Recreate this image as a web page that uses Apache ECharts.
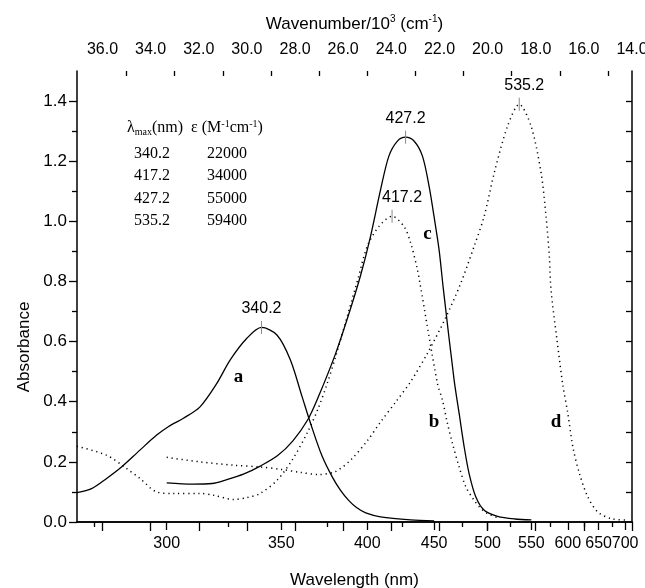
<!DOCTYPE html>
<html><head><meta charset="utf-8">
<script src="https://cdn.jsdelivr.net/npm/echarts@6/dist/echarts.min.js"></script>
<style>html,body{margin:0;padding:0;background:#fff}#c{width:645px;height:588px}</style>
</head><body><div id="c"></div>
<script>
// ---- data (wavelength in nm, absorbance) ----
const aWl  = [269.8, 274.3, 279.1, 284.0, 290.3, 296.3, 300.6, 306.4, 313.0, 320.0, 325.8, 333.3, 340.2, 347.8, 354.7, 360.9, 366, 372, 378, 383, 388, 393, 399, 409, 431, 450];
const aAbs = [0.098, 0.111, 0.145, 0.183, 0.239, 0.289, 0.317, 0.345, 0.383, 0.461, 0.539, 0.611, 0.647, 0.622, 0.539, 0.417, 0.32, 0.22, 0.15, 0.105, 0.072, 0.048, 0.03, 0.017, 0.007, 0.004];

const bWl  = [269.8, 279.1, 285.7, 290.3, 296.3, 302.5, 313.0, 318.6, 327.2, 333.3, 339.6, 348, 356, 364, 370, 375, 380, 388, 394, 400.0, 407.9, 417.2, 426.0, 431.1, 436.4, 438.4, 452.8, 457.1, 461.5, 466.0, 472.1, 478.4, 486.4, 493.1, 500, 510];
const bAbs = [0.252, 0.222, 0.178, 0.145, 0.100, 0.095, 0.095, 0.089, 0.075, 0.081, 0.095, 0.14, 0.21, 0.30, 0.38, 0.46, 0.55, 0.70, 0.81, 0.917, 0.983, 1.017, 0.983, 0.928, 0.839, 0.794, 0.461, 0.406, 0.328, 0.261, 0.183, 0.117, 0.072, 0.045, 0.028, 0.015];

const cWl  = [300, 310, 318, 324.3, 332, 339.6, 348, 356, 364, 370, 380, 388, 395.6, 402.2, 409.1, 414.9, 421.1, 427.2, 433.7, 440.4, 445.8, 449.9, 454.2, 458.0, 467.5, 472.1, 476.8, 481.5, 488.1, 496.5, 510.6, 530, 550];
const cAbs = [0.13, 0.126, 0.128, 0.141, 0.16, 0.186, 0.22, 0.27, 0.34, 0.417, 0.56, 0.69, 0.82, 0.95, 1.106, 1.217, 1.267, 1.28, 1.267, 1.217, 1.117, 1.017, 0.906, 0.772, 0.472, 0.361, 0.25, 0.161, 0.083, 0.039, 0.019, 0.01, 0.007];

const dWl  = [300, 313, 327.2, 339.6, 350, 360, 370, 380, 390, 400, 409.1, 420, 431.1, 445, 460, 473.6, 486.4, 496.5, 507.0, 521.7, 535.2, 549.6, 562.5, 569.1, 573.6, 575.9, 584, 592.6, 600, 607.6, 617.9, 631.6, 648.6, 672.8, 705.9];
const dAbs = [0.215, 0.2, 0.189, 0.183, 0.175, 0.165, 0.158, 0.168, 0.21, 0.27, 0.333, 0.40, 0.467, 0.565, 0.68, 0.794, 0.917, 1.017, 1.161, 1.317, 1.389, 1.317, 1.161, 1.017, 0.883, 0.772, 0.61, 0.456, 0.361, 0.25, 0.161, 0.083, 0.033, 0.011, 0.006];

const peakWl  = [340.2, 417.2, 427.2, 535.2];
const peakAbs = [0.647, 1.017, 1.28, 1.389];

const curveNames = ['a', 'b', 'c', 'd'];
const letterWl  = [329.5, 449.9, 444.4, 582.9];
const letterAbs = [0.483, 0.333, 0.956, 0.333];

const tableLambda = ['340.2', '417.2', '427.2', '535.2'];
const tableEps    = ['22000', '34000', '55000', '59400'];

const wlMajor = [300, 350, 400, 450, 500, 550, 600, 650];
const wlLast  = [700];
const wlMinor = [275, 325, 375, 425, 475, 525, 575, 625, 675];
const nuMajor = [14, 16, 18, 20, 22, 24, 26, 28, 30, 32, 34, 36];
const nuMinor = [15, 17, 19, 21, 23, 25, 27, 29, 31, 33, 35];
const absMajor = [0, 0.2, 0.4, 0.6, 0.8, 1.0, 1.2, 1.4];
const absMinor = [0.1, 0.3, 0.5, 0.7, 0.9, 1.1, 1.3];
const absRight = [0.1, 0.2, 0.3, 0.4, 0.5, 0.6, 0.7, 0.8, 0.9, 1.0, 1.1, 1.2, 1.3, 1.4];

// ---- build ----
const toNu = wl => 1e4 / wl;
const pairs = (wl, ab) => wl.map((w, i) => [toNu(w), ab[i]]);
const X_MIN = 14.0, X_MAX = 37.06;
const SANS = '"Liberation Sans", Arial, sans-serif';
const SERIF = '"Liberation Serif", "Times New Roman", serif';
const AX = { color: '#000', width: 1.5 };

function xAx(o) {
  return Object.assign({ type: 'value', min: X_MIN, max: X_MAX, inverse: true,
    splitLine: { show: false }, axisLine: { show: false },
    axisTick: { show: false }, axisLabel: { show: false } }, o);
}
function yAx(o) {
  return Object.assign({ type: 'value', min: 0, max: 1.5,
    splitLine: { show: false }, axisLine: { show: false },
    axisTick: { show: false }, axisLabel: { show: false } }, o);
}
const labelStyle = { show: true, color: '#000', fontSize: 16, fontFamily: SANS, hideOverlap: false };
const wlFmt = v => String(Math.round(1e4 / v));

const chart = echarts.init(document.getElementById('c'), null, { renderer: 'canvas' });
const lineSeries = (data, dotted) => ({
  type: 'line', data, showSymbol: false, symbol: 'none', smooth: 0.3,
  xAxisIndex: 0, yAxisIndex: 0, silent: true, z: 3,
  lineStyle: dotted ? { color: '#000', width: 1.5, type: [1.2, 3.8] } : { color: '#000', width: 1.3 }
});
const peakOffsets = [[0, 0], [10, 0], [0, 0], [5, 0]];

chart.setOption({
  animation: false,
  backgroundColor: '#fff',
  grid: { left: 77, right: 13, top: 71, bottom: 66, containLabel: false, outerBoundsMode: 'none' },
  xAxis: [
    xAx({ position: 'bottom', axisLine: { show: true, lineStyle: AX },
      axisTick: { show: true, customValues: wlMajor.concat(wlLast).map(toNu), length: 8, lineStyle: { color: '#000', width: 1.3 } },
      axisLabel: Object.assign({}, labelStyle, { customValues: wlMajor.map(toNu), margin: 14, formatter: wlFmt }),
      name: 'Wavelength (nm)', nameLocation: 'middle', nameGap: 50,
      nameTextStyle: { color: '#000', fontSize: 17, fontFamily: SANS } }),
    xAx({ position: 'bottom',
      axisTick: { show: true, customValues: wlMinor.map(toNu), length: 5, lineStyle: { color: '#000', width: 1.3 } } }),
    xAx({ position: 'top', axisLine: { show: true, lineStyle: AX },
      axisTick: { show: true, inside: true, customValues: nuMajor, length: 9, lineStyle: { color: '#000', width: 1.3 } },
      axisLabel: Object.assign({}, labelStyle, { customValues: nuMajor, margin: 13, formatter: v => v.toFixed(1) }),
      name: '{n|Wavenumber/10}{s|3}{n| (cm}{s|-1}{n|)}', nameLocation: 'middle', nameGap: 37,
      nameTextStyle: { color: '#000', fontSize: 17, fontFamily: SANS,
        rich: { n: { fontSize: 17, fontFamily: SANS, color: '#000', lineHeight: 20 },
                s: { fontSize: 10, fontFamily: SANS, color: '#000', lineHeight: 10, verticalAlign: 'top' } } } }),
    xAx({ position: 'top',
      axisTick: { show: true, inside: true, customValues: nuMinor, length: 5, lineStyle: { color: '#000', width: 1.3 } } }),
    xAx({ position: 'bottom',
      axisLabel: Object.assign({}, labelStyle, { customValues: wlLast.map(toNu), margin: 14, formatter: wlFmt }) })
  ],
  yAxis: [
    yAx({ position: 'left', axisLine: { show: true, lineStyle: AX },
      axisTick: { show: true, customValues: absMajor, length: 8, lineStyle: { color: '#000', width: 1.3 } },
      axisLabel: Object.assign({}, labelStyle, { fontSize: 17, customValues: absMajor, margin: 10, formatter: v => v.toFixed(1) }) }),
    yAx({ position: 'left',
      axisTick: { show: true, customValues: absMinor, length: 5, lineStyle: { color: '#000', width: 1.3 } } }),
    yAx({ position: 'right', axisLine: { show: true, lineStyle: AX },
      axisTick: { show: true, inside: true, customValues: absRight, length: 6, lineStyle: { color: '#000', width: 1.3 } } })
  ],
  series: [
    lineSeries(pairs(aWl, aAbs), false),
    lineSeries(pairs(bWl, bAbs), true),
    lineSeries(pairs(cWl, cAbs), false),
    lineSeries(pairs(dWl, dAbs), true),
    { type: 'scatter', xAxisIndex: 0, yAxisIndex: 0, silent: true, z: 4,
      symbol: 'rect', symbolSize: [1, 13], itemStyle: { color: '#8a8a8a', opacity: 1 },
      label: { show: true, position: 'top', distance: 4, color: '#000', opacity: 1, fontSize: 16, fontFamily: SANS,
        formatter: p => peakWl[p.dataIndex].toFixed(1) },
      data: peakWl.map((w, i) => ({ value: [toNu(w), peakAbs[i]], label: { offset: peakOffsets[i] } })) },
    { type: 'scatter', xAxisIndex: 0, yAxisIndex: 0, silent: true, z: 4,
      symbolSize: 1, itemStyle: { color: 'rgba(0,0,0,0)', opacity: 1 },
      label: { show: true, position: 'inside', color: '#000', opacity: 1, fontSize: 19, fontWeight: 'bold', fontFamily: SERIF,
        formatter: p => curveNames[p.dataIndex] },
      data: letterWl.map((w, i) => [toNu(w), letterAbs[i]]) }
  ],
  graphic: [
    { type: 'text', x: 24, y: 347, silent: true, rotation: Math.PI / 2,
      style: { text: 'Absorbance', fill: '#000', font: '17px ' + SANS, align: 'center', verticalAlign: 'middle' } },
    { type: 'text', x: 127, y: 128, silent: true,
      style: { text: '{l|λ}{sub|max}{l|(nm)  ε (M}{sup|-1}{l|cm}{sup|-1}{l|)}', fill: '#000',
        verticalAlign: 'middle', align: 'left',
        rich: { l: { fontSize: 16, fontFamily: SERIF, lineHeight: 18, fill: '#000' },
                sub: { fontSize: 10, fontFamily: SERIF, lineHeight: 8, verticalAlign: 'bottom', fill: '#000' },
                sup: { fontSize: 10, fontFamily: SERIF, lineHeight: 10, verticalAlign: 'top', fill: '#000' } } } }
  ].concat(tableLambda.map((t, i) => ({ type: 'text', x: 152, y: 153.5 + i * 22.5, silent: true,
      style: { text: t, fill: '#000', font: '16px ' + SERIF, align: 'center', verticalAlign: 'middle' } })))
   .concat(tableEps.map((t, i) => ({ type: 'text', x: 227, y: 153.5 + i * 22.5, silent: true,
      style: { text: t, fill: '#000', font: '16px ' + SERIF, align: 'center', verticalAlign: 'middle' } })))
});
</script></body></html>
